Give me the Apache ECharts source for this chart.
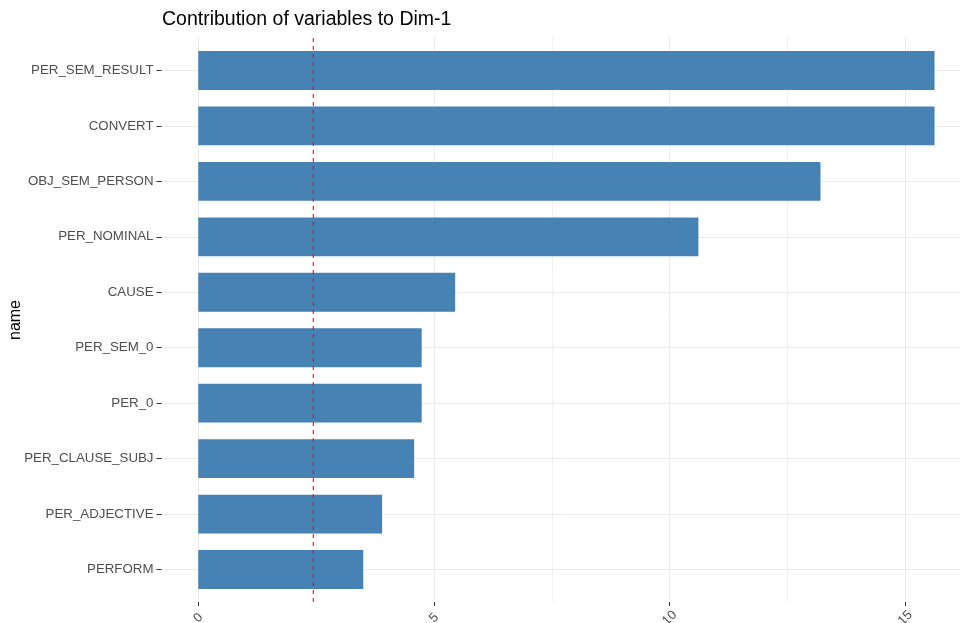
<!DOCTYPE html>
<html>
<head>
<meta charset="utf-8">
<title>Contribution of variables to Dim-1</title>
<script src="https://cdn.jsdelivr.net/npm/echarts@6/dist/echarts.min.js"></script>
<style>
  html, body { margin: 0; padding: 0; background: #ffffff; }
  #chart { width: 960px; height: 623px; }
</style>
</head>
<body>
<div id="chart"></div>
<script>
// Variables, ordered from the largest contribution to the smallest
const categories = [
  'PER_SEM_RESULT', 'CONVERT', 'OBJ_SEM_PERSON', 'PER_NOMINAL', 'CAUSE',
  'PER_SEM_0', 'PER_0', 'PER_CLAUSE_SUBJ', 'PER_ADJECTIVE', 'PERFORM'
];
// Contribution (%) of each variable to the first dimension
const contributions = [15.62, 15.62, 13.20, 10.61, 5.45, 4.74, 4.74, 4.58, 3.90, 3.50];
// Expected average contribution (reference line)
const expectedContribution = 2.44;
// Tick values shown on the contribution axis
const xTickValues = [0, 5, 10, 15];

const FONT = '"Liberation Sans", Arial, sans-serif';
const GRID_LINE = '#ebebeb';
const TEXT_GREY = '#4d4d4d';
const REF_RED = '#ff0000';
const X_MAX = 16.16;

const chart = echarts.init(document.getElementById('chart'), null, { renderer: 'canvas' });

chart.setOption({
  animation: false,
  backgroundColor: '#ffffff',
  textStyle: { fontFamily: FONT },
  title: {
    text: 'Contribution of variables to Dim-1',
    left: 157,
    top: 5,
    textStyle: { fontFamily: FONT, fontSize: 19.5, fontWeight: 'normal', color: '#000000' }
  },
  grid: [
    // bars + category axis (category points at band centres)
    { left: 161.5, right: 0, top: 70.5, bottom: 53.5, containLabel: false, outerBoundsMode: 'none' },
    // vertical grid lines, reference line and the value axis
    { left: 198.3, right: 0, top: 37, bottom: 21, containLabel: false, outerBoundsMode: 'none' }
  ],
  xAxis: [
    {
      gridIndex: 0,
      type: 'value',
      min: -0.78,
      max: X_MAX,
      show: false
    },
    {
      gridIndex: 1,
      type: 'value',
      min: 0,
      max: X_MAX,
      interval: 5,
      axisLine: { show: false },
      axisTick: { show: true, length: 4, lineStyle: { color: '#333333', width: 1 } },
      axisLabel: {
        rotate: 45,
        margin: 16,
        color: TEXT_GREY,
        fontSize: 13,
        fontFamily: FONT,
        align: 'center',
        verticalAlign: 'middle',
        showMaxLabel: false,
        formatter: v => (xTickValues.indexOf(v) >= 0 ? String(v) : '')
      },
      splitLine: { show: true, showMaxLine: false, lineStyle: { color: GRID_LINE, width: 1 } },
      minorTick: { show: false, splitNumber: 2 },
      minorSplitLine: { show: true, lineStyle: { color: '#f0f0f0', width: 1 } }
    }
  ],
  yAxis: [
    {
      gridIndex: 0,
      type: 'category',
      data: categories,
      inverse: true,
      boundaryGap: false,
      name: 'name',
      nameLocation: 'middle',
      nameGap: 138,
      nameMoveOverlap: false,
      nameTextStyle: { color: '#000000', fontSize: 16, fontFamily: FONT },
      axisLine: { show: false, onZero: false },
      axisTick: { show: true, length: 5, lineStyle: { color: '#333333', width: 1 } },
      axisLabel: { color: TEXT_GREY, fontSize: 13.3, fontFamily: FONT, margin: 8 },
      splitLine: { show: true, lineStyle: { color: GRID_LINE, width: 1 } }
    },
    {
      gridIndex: 1,
      type: 'value',
      min: 0,
      max: 1,
      show: false
    }
  ],
  series: [
    {
      name: 'contribution',
      type: 'bar',
      xAxisIndex: 0,
      yAxisIndex: 0,
      data: contributions,
      barWidth: '70%',
      clip: false,
      itemStyle: { color: '#4682b4' },
      emphasis: { disabled: true }
    },
    {
      // dashed vertical line at the expected contribution, spanning the panel height
      name: 'expected',
      type: 'line',
      xAxisIndex: 1,
      yAxisIndex: 1,
      data: [[expectedContribution, 0], [expectedContribution, 1]],
      z: 10,
      symbol: 'none',
      silent: true,
      color: REF_RED,
      lineStyle: { color: REF_RED, type: [4, 4], width: 1.1 },
      emphasis: { disabled: true }
    }
  ]
});
</script>
</body>
</html>
